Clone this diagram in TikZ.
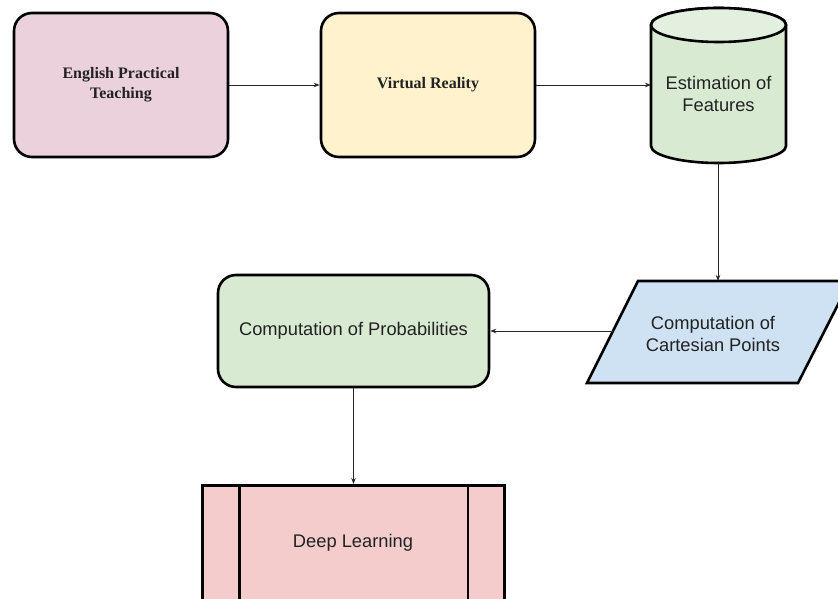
\documentclass[tikz,border=0pt]{standalone}
\usepackage{fontspec}
\setmainfont{Liberation Serif}
\setsansfont{Liberation Sans}
\usetikzlibrary{arrows.meta}
\definecolor{cpink}{HTML}{EAD1DC}
\definecolor{cyellow}{HTML}{FFF2CC}
\definecolor{cgreen}{HTML}{D9EAD3}
\definecolor{cgreentop}{HTML}{E4F0DF}
\definecolor{cblue}{HTML}{CFE2F3}
\definecolor{cred}{HTML}{F4CCCC}
\definecolor{ctext}{HTML}{222222}
\tikzset{
  shapeline/.style={draw=black, line width=2.6pt},
  roundbox/.style={shapeline, rectangle, rounded corners=18pt, align=center, text=ctext},
  serifbold/.style={font=\fontsize{16}{20}\selectfont\bfseries},
  sanslabel/.style={font=\sffamily\fontsize{18.3}{22.5}\selectfont, align=center, text=ctext},
  conn/.style={draw=black!85, line width=0.9pt, -{Stealth[length=6pt,width=4.5pt]}}
}
\begin{document}
\begin{tikzpicture}[x=1pt,y=-1pt]
\useasboundingbox (0,0) rectangle (838,599);
% boxes
\node[roundbox, serifbold, fill=cpink, minimum width=214pt, minimum height=144pt] (ept) at (121,85) {English Practical\\Teaching};
\node[roundbox, serifbold, fill=cyellow, minimum width=214pt, minimum height=144pt] (vr) at (428,85) {Virtual Reality};
% cylinder
\path[shapeline, fill=cgreen] (651,25) -- (651,146) arc[start angle=180, end angle=0, x radius=67.5, y radius=17] -- (786,25) arc[start angle=0, end angle=-180, x radius=67.5, y radius=17] -- cycle;
\path[shapeline, fill=cgreentop] (718.5,25) ellipse[x radius=67.5, y radius=17];
\node[sanslabel] (est) at (718.5,94) {Estimation of\\Features};
\coordinate (estW) at (651,85);
\coordinate (estS) at (718,163);
% parallelogram
\path[shapeline, fill=cblue] (638,281) -- (850,281) -- (798,383) -- (587,383) -- cycle;
\node[sanslabel] (cart) at (713,334) {Computation of\\Cartesian Points};
\coordinate (cartN) at (718,281);
\coordinate (cartW) at (613,331);
% probabilities
\node[roundbox, sanslabel, fill=cgreen, minimum width=271pt, minimum height=112pt] (prob) at (353.5,331) {Computation of Probabilities};
% deep learning
\node[shapeline, rectangle, fill=cred, minimum width=302pt, minimum height=140pt, anchor=north] (dl) at (353.5,484) {};
\draw[line width=2.6pt] ([xshift=38pt]dl.north west) -- ([xshift=38pt]dl.south west);
\draw[line width=2.6pt] ([xshift=-38pt]dl.north east) -- ([xshift=-38pt]dl.south east);
\node[sanslabel] (dltext) at (353,543) {Deep Learning};
% connectors
\draw[conn] (ept.east) -- (vr.west);
\draw[conn] (vr.east) -- (estW);
\draw[conn] (estS) -- (cartN);
\draw[conn] (cartW) -- (prob.east);
\draw[conn] (prob.south) -- (dl.north);
\end{tikzpicture}
\end{document}
